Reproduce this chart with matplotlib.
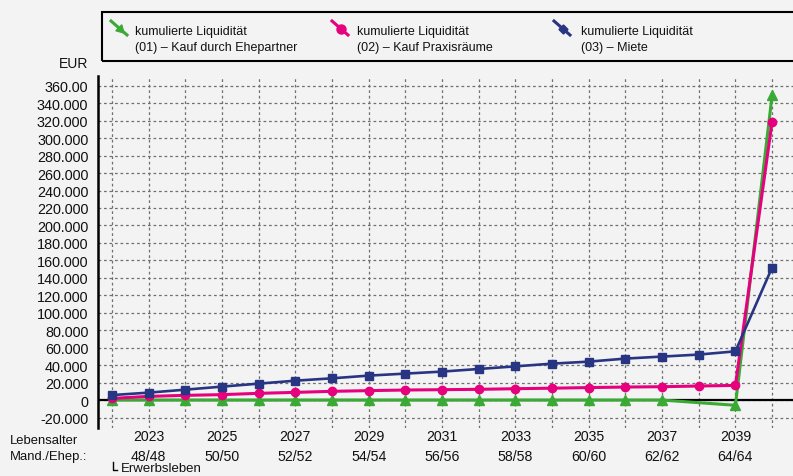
import matplotlib
matplotlib.use("Agg")
import matplotlib.pyplot as plt
from matplotlib.lines import Line2D
from matplotlib.patches import Rectangle
import numpy as np

plt.rcParams['font.family'] = ['Liberation Sans', 'DejaVu Sans']

years = list(range(2022, 2041))
series_01 = [0, 0, 0, 0, 0, 0, 0, 0, 0, 0, 0, 0, 0, 0, 0, 0, None, -6000, 349000]
series_02 = [1900, 4200, 5400, 6200, 7700, 8800, 10000, 10800, 11500, 11900, 12300,
             13000, 13600, 14300, 14900, 15300, 16100, 16800, 318800]
series_03 = [5700, 8500, 11900, 15400, 18800, 22200, 24900, 28000, 30300, 32600, 35600,
             38600, 41700, 44000, 47500, 49800, 52100, 55800, 151800]
labels = ["kumulierte Liquidität\n(01) – Kauf durch Ehepartner",
          "kumulierte Liquidität\n(02) – Kauf Praxisräume",
          "kumulierte Liquidität\n(03) – Miete"]
colors = ["#3AAA35", "#E6007E", "#283583"]

tick_years = [2023, 2025, 2027, 2029, 2031, 2033, 2035, 2037, 2039]
tick_ages = ["48/48", "50/50", "52/52", "54/54", "56/56", "58/58", "60/60", "62/62", "64/64"]
y_ticks = list(range(-20000, 360001, 20000))
y_ticklabels = ["-20.000", "0", "20.000", "40.000", "60.000", "80.000", "100.000",
                "120.000", "140.000", "160.000", "180.000", "200.000", "220.000",
                "240.000", "260.000", "280.000", "300.000", "320.000", "340.000", "360.00"]

W, H = 793, 477
BG = "#F3F3F3"
TXT = "#111111"
fig = plt.figure(figsize=(W / 100, H / 100), dpi=100, facecolor=BG)


def fx(x):
    return x / W


def fy(y):
    return 1 - y / H


ax = fig.add_axes([fx(98), fy(429), fx(793) - fx(98), fy(76.7) - fy(429)])
ax.set_facecolor(BG)
ax.set_xlim(2021.62, 2040.57)
ax.set_ylim(-32000, 371500)

# grid
for yv in y_ticks:
    ax.axhline(yv, color="#707070", lw=0.9, ls=(0, (2.2, 2.2)), zorder=1)
for xv in years:
    ax.axvline(xv, color="#707070", lw=0.9, ls=(0, (2.2, 2.2)), zorder=1)
ax.axhline(0, color="black", lw=1.6, zorder=2)

for sp in ["top", "right", "bottom"]:
    ax.spines[sp].set_visible(False)
ax.spines["left"].set_linewidth(1.8)
ax.spines["left"].set_color("black")

# series
x1 = [x for x, v in zip(years, series_01) if v is not None]
y1 = [v for v in series_01 if v is not None]
ax.plot(x1, y1, color=colors[0], lw=2.2, marker="^", ms=7, zorder=3, clip_on=False)
ax.plot(years, series_02, color=colors[1], lw=2.2, marker="o", ms=6, zorder=4, clip_on=False)
ax.plot(years, series_03, color=colors[2], lw=1.9, marker="s", ms=6, zorder=5, clip_on=False)

ax.set_yticks(y_ticks)
ax.set_yticklabels(y_ticklabels, fontsize=10.4, color=TXT)
ax.tick_params(axis="y", length=0, pad=7)
ax.set_xticks(tick_years)
ax.set_xticklabels([f"{y}\n{a}" for y, a in zip(tick_years, tick_ages)],
                   fontsize=10.2, color=TXT, linespacing=1.55)
ax.tick_params(axis="x", length=0, pad=1)

# axis texts
fig.text(fx(88), fy(64), "EUR", ha="right", va="center", fontsize=10, color=TXT)
fig.text(fx(10), fy(441), "Lebensalter", ha="left", va="center", fontsize=9.4, color=TXT)
fig.text(fx(10), fy(457), "Mand./Ehep.:", ha="left", va="center", fontsize=9.4, color=TXT)
fig.add_artist(Line2D([fx(112.5), fx(112.5), fx(116.5)], [fy(463), fy(471), fy(471)],
                      color="black", lw=1.0))
fig.text(fx(121), fy(469.5), "Erwerbsleben", ha="left", va="center", fontsize=9.5, color=TXT)

# legend box
fig.add_artist(Rectangle((fx(102), fy(62)), fx(800) - fx(102), fy(13) - fy(62),
                         fill=False, edgecolor="black", lw=1.5))
icon_x = [111, 332, 554]
text_x = [135, 357, 581]
markers = [(3, 0, -135), "o", (4, 0, 0)]
msizes = [7, 6.5, 6.5]
for ix, tx, lab, col, mk, msz in zip(icon_x, text_x, labels, colors, markers, msizes):
    fig.add_artist(Line2D([fx(ix), fx(ix + 16)], [fy(22), fy(36)], color=col, lw=2.2))
    fig.add_artist(Line2D([fx(ix + 9)], [fy(30)], color=col, marker=mk, ms=msz, lw=0))
    fig.text(fx(tx), fy(40), lab, ha="left", va="center", fontsize=9, color=TXT,
             linespacing=1.4)

fig.savefig("out.png", dpi=100, facecolor=BG)
